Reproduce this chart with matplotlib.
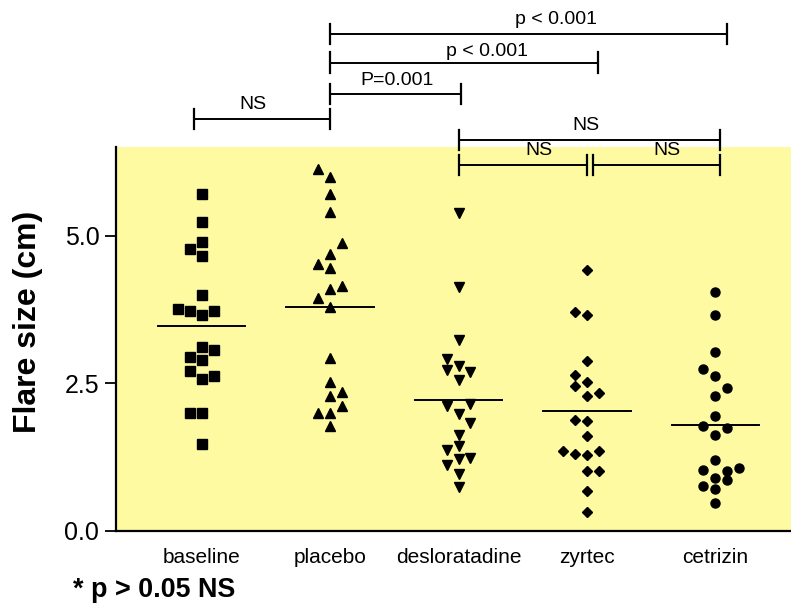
import numpy as np
import matplotlib
matplotlib.use('Agg')
import matplotlib.pyplot as plt

plt.rcParams['font.family'] = ['Liberation Sans', 'DejaVu Sans']

# data
groups = ['baseline', 'placebo', 'desloratadine', 'zyrtec', 'cetrizin']

baseline = [5.71, 5.23, 4.90, 4.77, 4.65, 3.99, 3.75, 3.72, 3.65, 3.72,
            3.11, 3.07, 2.94, 2.90, 2.70, 2.57, 2.62, 1.99, 1.99, 1.47]
placebo = [6.13, 6.00, 5.71, 5.40, 4.88, 4.69, 4.52, 4.45, 4.15, 4.10,
           3.94, 3.80, 2.92, 2.52, 2.36, 2.29, 2.12, 1.99, 1.99, 1.77]
desloratadine = [5.38, 4.13, 3.23, 2.91, 2.80, 2.73, 2.69, 2.56, 2.12, 2.15,
                 1.98, 1.82, 1.63, 1.44, 1.37, 1.22, 1.23, 1.12, 0.97, 0.75]
zyrtec = [4.42, 3.70, 3.65, 2.87, 2.64, 2.52, 2.45, 2.33, 2.28, 1.88,
          1.86, 1.60, 1.36, 1.31, 1.29, 1.36, 1.02, 1.02, 0.67, 0.32]
cetrizin = [4.05, 3.65, 3.03, 2.74, 2.62, 2.42, 2.29, 1.95, 1.77, 1.75,
            1.62, 1.21, 1.03, 1.02, 1.06, 0.90, 0.86, 0.77, 0.71, 0.47]

# comparisons: (from group, to group, label)
comparisons = [(1, 4.09, 'p < 0.001'),
               (1, 3.09, 'p < 0.001'),
               (1, 2.02, 'P=0.001'),
               (-0.06, 1, 'NS'),
               (2, 4.04, 'NS'),
               (2, 3.0, 'NS'),
               (3.05, 4.04, 'NS')]

# layout (not data): beeswarm column of each point, bracket heights, text spots
slots = [[0, 0, 0, -1, 0, 0, -2, -1, 0, 1, 0, 1, -1, 0, -1, 0, 1, -1, 0, 0],
         [-1, 0, 0, 0, 1, 0, -1, 0, 1, 0, -1, 0, 0, 0, 1, 0, 1, -1, 0, 0],
         [0, 0, 0, -1, 0, -1, 1, 0, -1, 1, 0, 1, 0, 0, -1, 0, 1, -1, 0, 0],
         [0, -1, 0, 0, -1, 0, -1, 1, 0, -1, 0, 0, -2, -1, 0, 1, 0, 1, 0, 0],
         [0, 0, 0, -1, 0, 1, 0, 0, -1, 1, 0, 0, -1, 1, 2, 0, 1, -1, 0, 0]]
bracket_y = [8.41, 7.93, 7.39, 6.98, 6.62, 6.20, 6.20]
text_pos = [(2.76, 8.66), (2.22, 8.12), (1.52, 7.62), (0.40, 7.22),
            (2.99, 6.86), (2.63, 6.44), (3.62, 6.44)]
markers = ['s', '^', 'v', 'D', 'o']
msizes = [7.0, 7.0, 7.0, 5.0, 6.5]
slot_w = 0.092

fig = plt.figure(figsize=(7.91, 6.06), dpi=100)
ax = fig.add_axes([116 / 791, 75 / 606, 675 / 791, 384 / 606])
ax.set_facecolor('#fefaa2')

series = [baseline, placebo, desloratadine, zyrtec, cetrizin]
for i, vals in enumerate(series):
    xs = i + np.array(slots[i]) * slot_w
    ax.plot(xs, vals, linestyle='none', marker=markers[i], ms=msizes[i],
            color='black', clip_on=False, zorder=3)
    # mean line
    m = np.mean(vals)
    ax.plot([i - 0.34, i + 0.34], [m, m], color='black', lw=1.4, zorder=4)

ax.set_xlim(-0.668, 4.59)
ax.set_ylim(0, 6.5)
ax.set_yticks([0, 2.5, 5.0])
ax.set_yticklabels(['0.0', '2.5', '5.0'])
ax.set_xticks(range(len(groups)))
ax.set_xticklabels(groups)
ax.tick_params(axis='y', length=8, width=1.3, labelsize=18, pad=4)
ax.tick_params(axis='x', length=0, labelsize=15, pad=12)
for s in ['top', 'right']:
    ax.spines[s].set_visible(False)
for s in ['left', 'bottom']:
    ax.spines[s].set_linewidth(1.6)

# significance brackets
tick_h = 0.17
for (x1, x2, label), y, (tx, ty) in zip(comparisons, bracket_y, text_pos):
    ax.plot([x1, x2], [y, y], color='black', lw=1.4, clip_on=False)
    ax.plot([x1, x1], [y - tick_h, y + tick_h], color='black', lw=1.6, clip_on=False)
    ax.plot([x2, x2], [y - tick_h, y + tick_h], color='black', lw=1.6, clip_on=False)
    ax.text(tx, ty, label, ha='center', va='center', fontsize=14, clip_on=False)

fig.text(28 / 791, 1 - 322 / 606, 'Flare size (cm)', rotation=90, ha='center',
         va='center', fontsize=23, fontweight='bold')
fig.text(73 / 791, 1 - 590 / 606, '* p > 0.05 NS', ha='left', va='center',
         fontsize=19.4, fontweight='bold')

plt.savefig('out.png', dpi=100)
